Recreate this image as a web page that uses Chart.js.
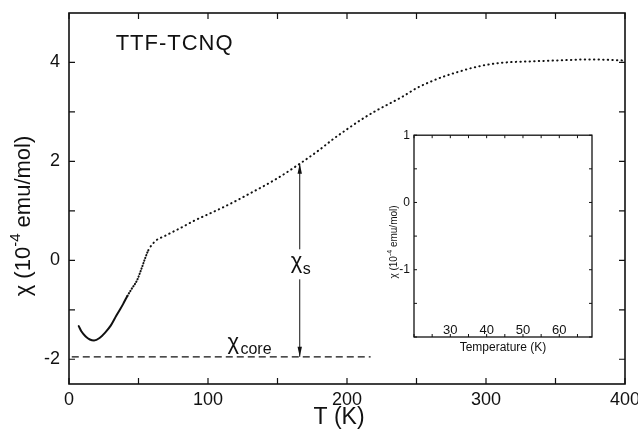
<!DOCTYPE html>
<html>
<head>
<meta charset="utf-8">
<script src="https://cdn.jsdelivr.net/npm/chart.js@4"></script>
<style>
  html, body { margin: 0; padding: 0; background: #fff; }
  #wrap { position: relative; width: 638px; height: 430px; }
  #main { position: absolute; left: 0; top: 0; }
  #inset { position: absolute; left: 386px; top: 124px; }
</style>
</head>
<body>
<div id="wrap">
  <canvas id="main" width="638" height="430"></canvas>
  <canvas id="inset" width="216" height="236"></canvas>
</div>
<script>
// magnetic susceptibility of TTF-TCNQ against temperature
const temps = [7, 9, 12, 15, 18, 22, 26, 30, 34, 37, 39, 42, 45, 49, 52, 55, 57, 59, 63, 68, 75, 80,
  90, 100, 110, 120, 130, 140, 150, 160, 170, 180, 190, 200, 210, 220, 230, 240, 250, 260, 270,
  280, 290, 300, 310, 320, 330, 340, 350, 360, 370, 380, 390, 400];
const chi = [-1.33, -1.44, -1.54, -1.60, -1.62, -1.57, -1.46, -1.32, -1.12, -0.98, -0.88, -0.72, -0.58,
  -0.40, -0.18, 0.06, 0.20, 0.29, 0.41, 0.48, 0.58, 0.65,
  0.80, 0.93, 1.06, 1.20, 1.35, 1.50, 1.66, 1.84, 2.03, 2.23, 2.45, 2.65, 2.84, 3.01, 3.16, 3.31,
  3.48, 3.61, 3.72, 3.81, 3.89, 3.95, 3.99, 4.01, 4.02, 4.03, 4.04, 4.05, 4.06, 4.06, 4.05, 4.04];

const xTicks = [0, 100, 200, 300, 400];
const yTicks = [-2, 0, 2, 4];
const chiCore = -1.95;
const coreFrom = 2, coreTo = 217;
const arrowT = 166;
const chiAtArrow = 1.95;

const insetXTicks = [30, 40, 50, 60];
const insetYTicks = [-1, 0, 1];

const INK = '#111';
const FONT = '"Liberation Sans", Arial, sans-serif';

const curve = temps.map((t, i) => ({ x: t, y: chi[i] }));

// rotated axis title with a raised exponent
function sideTitle(ctx, cx, cy, size, supSize, lift) {
  ctx.save();
  ctx.fillStyle = INK;
  ctx.translate(cx, cy);
  ctx.rotate(-Math.PI / 2);
  ctx.textAlign = 'left';
  ctx.textBaseline = 'middle';
  const p1 = 'χ (10', sup = '-4', p2 = ' emu/mol)';
  ctx.font = size + 'px ' + FONT;
  const w1 = ctx.measureText(p1).width, w2 = ctx.measureText(p2).width;
  ctx.font = supSize + 'px ' + FONT;
  const ws = ctx.measureText(sup).width;
  const sx = -(w1 + ws + w2) / 2;
  ctx.font = size + 'px ' + FONT;
  ctx.fillText(p1, sx, 0);
  ctx.font = supSize + 'px ' + FONT;
  ctx.fillText(sup, sx + w1, -lift);
  ctx.font = size + 'px ' + FONT;
  ctx.fillText(p2, sx + w1 + ws, 0);
  ctx.restore();
}

// frame, inward ticks, titles and the χs / χcore marks
const mainDecor = {
  id: 'mainDecor',
  afterDraw(chart) {
    const { ctx, chartArea: a, scales: { x, y } } = chart;
    ctx.save();
    ctx.strokeStyle = INK;
    ctx.fillStyle = INK;

    ctx.lineWidth = 1.6;
    ctx.strokeRect(a.left, a.top, a.right - a.left, a.bottom - a.top);

    ctx.lineWidth = 1.2;
    ctx.beginPath();
    for (let t = 0; t <= 400; t += 50) {
      const px = x.getPixelForValue(t);
      ctx.moveTo(px, a.bottom); ctx.lineTo(px, a.bottom - 6);
      ctx.moveTo(px, a.top); ctx.lineTo(px, a.top + 6);
    }
    for (let v = -2; v <= 4; v++) {
      const py = y.getPixelForValue(v);
      ctx.moveTo(a.left, py); ctx.lineTo(a.left + 6, py);
      ctx.moveTo(a.right, py); ctx.lineTo(a.right - 6, py);
    }
    ctx.stroke();

    // arrow heads on the χs line
    const ax = x.getPixelForValue(arrowT);
    const top = y.getPixelForValue(chiAtArrow);
    const bot = y.getPixelForValue(chiCore);
    ctx.beginPath();
    ctx.moveTo(ax, top); ctx.lineTo(ax - 2.2, top + 10); ctx.lineTo(ax + 2.2, top + 10); ctx.closePath();
    ctx.moveTo(ax, bot); ctx.lineTo(ax - 2.2, bot - 10); ctx.lineTo(ax + 2.2, bot - 10); ctx.closePath();
    ctx.fill();

    // χs label with a gap in the line
    const ly = y.getPixelForValue(-0.06);
    ctx.fillStyle = '#fff';
    ctx.fillRect(ax - 12, ly - 14, 24, 30);
    ctx.fillStyle = INK;
    ctx.textBaseline = 'alphabetic';
    ctx.textAlign = 'left';
    ctx.font = '22px ' + FONT;
    ctx.fillText('χ', ax - 9, ly + 5);
    ctx.font = '16px ' + FONT;
    ctx.fillText('s', ax + 3, ly + 11);

    // χcore label sitting on the core line
    const cx = x.getPixelForValue(114);
    const cy = y.getPixelForValue(chiCore) - 6;
    ctx.font = '22px ' + FONT;
    ctx.fillText('χ', cx, cy - 2);
    ctx.font = '16px ' + FONT;
    ctx.fillText('core', cx + 13, cy + 3);

    // compound name
    ctx.font = '22px ' + FONT;
    ctx.textAlign = 'center';
    ctx.textBaseline = 'middle';
    ctx.letterSpacing = '1px';
    ctx.fillText('TTF-TCNQ', x.getPixelForValue(76), y.getPixelForValue(4.38));
    ctx.letterSpacing = '0px';

    // axis titles
    ctx.font = '23px ' + FONT;
    ctx.fillText('T (K)', 339, 418);
    ctx.restore();

    sideTitle(ctx, 24, 216, 22, 15, 8);
  }
};

new Chart(document.getElementById('main'), {
  type: 'line',
  data: {
    datasets: [
      {
        data: curve,
        borderColor: INK,
        borderWidth: 2,
        borderCapStyle: 'round',
        borderDash: [0.4, 4.2],
        pointRadius: 0,
        cubicInterpolationMode: 'monotone',
        segment: {
          borderDash: c => c.p1.parsed.x <= 42 ? [] : (c.p1.parsed.x <= 58 ? [0.4, 2.4] : undefined)
        }
      },
      {
        data: [{ x: coreFrom, y: chiCore }, { x: coreTo, y: chiCore }],
        borderColor: INK,
        borderWidth: 1.3,
        borderDash: [7, 4],
        pointRadius: 0
      },
      {
        data: [{ x: arrowT, y: chiCore }, { x: arrowT, y: chiAtArrow }],
        borderColor: INK,
        borderWidth: 1,
        pointRadius: 0
      }
    ]
  },
  options: {
    responsive: false,
    animation: false,
    layout: { padding: { top: 13, right: 13, left: 0, bottom: 0 } },
    plugins: { legend: { display: false }, tooltip: { enabled: false } },
    scales: {
      x: {
        type: 'linear',
        min: 0, max: 400,
        afterBuildTicks: s => { s.ticks = xTicks.map(v => ({ value: v })); },
        afterFit: s => { s.height = 46; s.paddingLeft = 0; s.paddingRight = 0; },
        grid: { display: false, drawTicks: false },
        border: { display: false },
        ticks: { color: INK, font: { family: FONT, size: 18 }, padding: 5, maxRotation: 0 }
      },
      y: {
        min: -2.5, max: 5,
        afterBuildTicks: s => { s.ticks = yTicks.map(v => ({ value: v })); },
        afterFit: s => { s.width = 69; s.paddingTop = 0; s.paddingBottom = 0; },
        grid: { display: false, drawTicks: false },
        border: { display: false },
        ticks: { color: INK, font: { family: FONT, size: 18 }, padding: 9 }
      }
    }
  },
  plugins: [mainDecor]
});

// empty inset frame
const insetDecor = {
  id: 'insetDecor',
  afterDraw(chart) {
    const { ctx, chartArea: a, scales: { x, y } } = chart;
    ctx.save();
    ctx.strokeStyle = INK;
    ctx.fillStyle = INK;
    ctx.lineWidth = 1.3;
    ctx.strokeRect(a.left, a.top, a.right - a.left, a.bottom - a.top);
    ctx.lineWidth = 1;
    ctx.beginPath();
    for (let v = -2; v <= 1; v += 0.5) {
      const py = y.getPixelForValue(v);
      ctx.moveTo(a.left, py); ctx.lineTo(a.left + 3, py);
      ctx.moveTo(a.right, py); ctx.lineTo(a.right - 3, py);
    }
    for (let t = 20; t <= 65; t += 5) {
      const px = x.getPixelForValue(t);
      ctx.moveTo(px, a.top); ctx.lineTo(px, a.top + 3);
      ctx.moveTo(px, a.bottom); ctx.lineTo(px, a.bottom - 3);
    }
    ctx.stroke();

    // temperature labels sit inside the box
    ctx.font = '13px ' + FONT;
    ctx.textAlign = 'center';
    ctx.textBaseline = 'middle';
    insetXTicks.forEach(t => ctx.fillText(String(t), x.getPixelForValue(t), a.bottom - 7));
    ctx.restore();

    sideTitle(ctx, 8, 118, 10, 7, 4);
  }
};

new Chart(document.getElementById('inset'), {
  type: 'line',
  data: { datasets: [{ data: [], pointRadius: 0 }] },
  options: {
    responsive: false,
    animation: false,
    layout: { padding: { top: 10, right: 10, left: 0, bottom: 0 } },
    plugins: { legend: { display: false }, tooltip: { enabled: false } },
    scales: {
      x: {
        type: 'linear',
        min: 20, max: 69,
        afterBuildTicks: s => { s.ticks = insetXTicks.map(v => ({ value: v })); },
        afterFit: s => { s.height = 23; s.paddingLeft = 0; s.paddingRight = 0; },
        grid: { display: false, drawTicks: false },
        border: { display: false },
        ticks: { display: false },
        title: { display: true, text: 'Temperature (K)', color: INK, font: { family: FONT, size: 12 }, padding: { top: 0, bottom: 5 } }
      },
      y: {
        min: -2, max: 1,
        afterBuildTicks: s => { s.ticks = insetYTicks.map(v => ({ value: v })); },
        afterFit: s => { s.width = 28; },
        grid: { display: false, drawTicks: false },
        border: { display: false },
        ticks: { color: INK, font: { family: FONT, size: 12 }, padding: 4 }
      }
    }
  },
  plugins: [insetDecor]
});
</script>
</body>
</html>
